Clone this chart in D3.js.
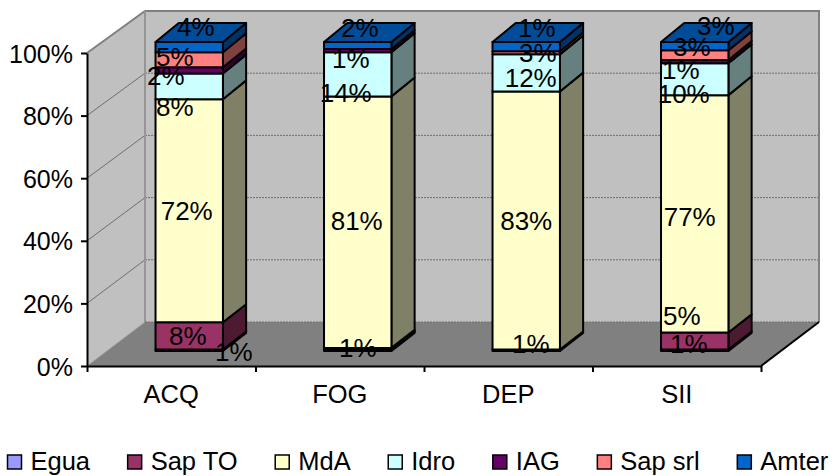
<!DOCTYPE html>
<html>
<head>
<meta charset="utf-8">
<script src="https://cdn.jsdelivr.net/npm/d3@7"></script>
<style>
html, body { margin: 0; padding: 0; background: #fff; }
svg { display: block; }
text { font-family: "Liberation Sans", Arial, sans-serif; fill: #000; }
</style>
</head>
<body>
<div id="chart"></div>
<script>
// Data
const categories = ["ACQ", "FOG", "DEP", "SII"];
const seriesNames = ["Egua", "Sap TO", "MdA", "Idro", "IAG", "Sap srl", "Amter"];
const egua = [0.5, 0.5, 0.5, 0.5];
const sapTO = [8.8, 0.5, 0, 5.5];
const mda = [72.2, 81.4, 83.5, 76.8];
const idro = [8.3, 14.3, 12, 10.3];
const iag = [2, 1, 0, 1.1];
const sapSrl = [4.9, 0, 1, 3.1];
const amter = [3.3, 2.3, 3, 2.7];
const yTicks = [0, 20, 40, 60, 80, 100];

// Printed labels, bottom to top ("" = none)
const labelsACQ = ["1%", "8%", "72%", "8%", "2%", "5%", "4%"];
const labelsFOG = ["", "1%", "81%", "14%", "1%", "", "2%"];
const labelsDEP = ["1%", "", "83%", "12%", "", "3%", "1%"];
const labelsSII = ["1%", "5%", "77%", "10%", "1%", "3%", "3%"];

const seriesValues = [egua, sapTO, mda, idro, iag, sapSrl, amter];
const barLabels = [labelsACQ, labelsFOG, labelsDEP, labelsSII];

// Layout
const width = 833, height = 476;
const plot = { left: 87, right: 761, bottom: 366, top: 53 };
const wall = { dx: 58, bottom: 322, top: 11 };
const barDepth = { front: 0.31, back: 0.71 };
const tickFont = 25, catFont = 25.5, labelFont = 26, legendFont = 25.5;

const colors = ["#9999FF", "#993366", "#FFFFCC", "#CCFFFF", "#660066", "#FF8080", "#0066CC"];
const sideColors = ["#4D4D80", "#4D1A33", "#808066", "#668080", "#330033", "#804040", "#003366"];
const topColors = ["#7373BF", "#73264D", "#BFBF99", "#99BFBF", "#4D004D", "#BF6060", "#004C99"];

// Excel moves its 3D labels around, offsets from the centre of each segment
const labelShift = [
    [[44.5, 1], [-1.5, 0], [-2.5, 0], [-14.5, 20], [-23.5, 5], [-14.5, -3.5], [6.5, -20]],
    [[0, 0], [0, -1], [-1, -2], [-12, 18], [-7, 8], [0, 0], [2, -18]],
    [[4.5, -6.7], [0, 0], [0, 0], [4.5, 4.4], [0, 0], [11.5, 0], [10.5, -19]],
    [[-6, -6.7], [-13, -25.5], [-5, 2.6], [-11, 14], [-14, 7.7], [-3, -8.8], [21, -21]]
];

const svg = d3.select("#chart").append("svg")
    .attr("width", width)
    .attr("height", height);

const xScale = d3.scaleBand()
    .domain(categories)
    .range([plot.left, plot.right])
    .paddingInner(0.6)
    .paddingOuter(0.3);

const yFront = d3.scaleLinear().domain([0, 100]).range([plot.bottom, plot.top]);
const yBack = d3.scaleLinear().domain([0, 100]).range([wall.bottom, wall.top]);
// the bars sit inside the box, the picture has a slight perspective so they get their own scales
const yBarFront = d3.scaleLinear().domain([0, 100]).range([351, 42]);
const yBarBack = d3.scaleLinear().domain([0, 100]).range([333, 23]);

// depth 0 = front of the box, depth 1 = back wall
const px = (x, depth) => x + wall.dx * depth;
const py = (v, depth) => yFront(v) + (yBack(v) - yFront(v)) * depth;
const poly = pts => pts.map(p => p.join(",")).join(" ");

const rows = categories.map((c, i) => {
    const row = { category: c };
    seriesNames.forEach((s, j) => { row[s] = seriesValues[j][i]; });
    return row;
});
const stacked = d3.stack().keys(seriesNames)(rows);

// Walls and floor
const box = svg.append("g");
box.append("polygon")
    .attr("points", poly([[plot.left, py(100, 0)], [px(plot.left, 1), py(100, 1)], [px(plot.left, 1), py(0, 1)], [plot.left, py(0, 0)]]))
    .attr("fill", "#C0C0C0");
box.append("polygon")
    .attr("points", poly([[px(plot.left, 1), py(100, 1)], [px(plot.right, 1), py(100, 1)], [px(plot.right, 1), py(0, 1)], [px(plot.left, 1), py(0, 1)]]))
    .attr("fill", "#C0C0C0");
box.append("polygon")
    .attr("points", poly([[plot.left, py(0, 0)], [px(plot.left, 1), py(0, 1)], [px(plot.right, 1), py(0, 1)], [plot.right, py(0, 0)]]))
    .attr("fill", "#808080");

// Gridlines on both walls
const gridTicks = yTicks.filter(t => t > 0 && t < 100);
box.selectAll(".grid-back")
    .data(gridTicks)
    .enter()
    .append("line")
    .attr("x1", px(plot.left, 1))
    .attr("x2", px(plot.right, 1))
    .attr("y1", d => py(d, 1))
    .attr("y2", d => py(d, 1))
    .attr("stroke", "#6E6E6E")
    .attr("stroke-dasharray", "2,1");
box.selectAll(".grid-side")
    .data(gridTicks)
    .enter()
    .append("line")
    .attr("x1", plot.left)
    .attr("x2", px(plot.left, 1))
    .attr("y1", d => py(d, 0))
    .attr("y2", d => py(d, 1))
    .attr("stroke", "#6E6E6E");

// Grey frame of the walls
box.append("polyline")
    .attr("points", poly([[plot.left, py(100, 0)], [px(plot.left, 1), py(100, 1)], [px(plot.right, 1), py(100, 1)], [px(plot.right, 1), py(0, 1)]]))
    .attr("fill", "none")
    .attr("stroke", "#808080")
    .attr("stroke-width", 2);
box.append("line")
    .attr("x1", px(plot.left, 1)).attr("x2", px(plot.left, 1))
    .attr("y1", py(100, 1)).attr("y2", py(0, 1))
    .attr("stroke", "#969696")
    .attr("stroke-width", 2);
box.append("line")
    .attr("x1", plot.left).attr("x2", px(plot.left, 1))
    .attr("y1", py(0, 0)).attr("y2", py(0, 1))
    .attr("stroke", "#A0A0A0");
box.append("line")
    .attr("x1", px(plot.left, 1)).attr("x2", px(plot.right, 1))
    .attr("y1", py(0, 1)).attr("y2", py(0, 1))
    .attr("stroke", "#6E6E6E")
    .attr("stroke-dasharray", "2,1");
box.append("line")
    .attr("x1", plot.right).attr("x2", px(plot.right, 1))
    .attr("y1", py(0, 0)).attr("y2", py(0, 1))
    .attr("stroke", "#000")
    .attr("stroke-width", 2);

// Axes
const axisY = svg.append("g")
    .attr("transform", "translate(" + plot.left + ",0)")
    .call(d3.axisLeft(yFront).tickValues(yTicks).tickFormat(d => d + "%").tickSize(6).tickSizeOuter(0));
const axisX = svg.append("g")
    .attr("transform", "translate(0," + plot.bottom + ")")
    .call(d3.axisBottom(d3.scalePoint().domain(d3.range(5)).range([plot.left, plot.right])).tickFormat("").tickSize(6).tickSizeOuter(0));
[axisY, axisX].forEach(a => {
    a.selectAll("path, line").attr("stroke", "#000").attr("stroke-width", 2);
});
axisY.selectAll("text")
    .attr("font-size", tickFont)
    .style("font-family", "'Liberation Sans', Arial, sans-serif")
    .attr("x", -14)
    .attr("y", 1);

svg.selectAll(".cat")
    .data(categories)
    .enter()
    .append("text")
    .attr("x", d => xScale(d) + xScale.bandwidth() / 2)
    .attr("y", 403)
    .attr("text-anchor", "middle")
    .attr("font-size", catFont)
    .text(d => d);

// Bars
const bars = svg.append("g");
categories.forEach((c, i) => {
    const x0 = xScale(c), x1 = x0 + xScale.bandwidth();
    const f = barDepth.front, b = barDepth.back;
    stacked.forEach((layer, s) => {
        const lo = layer[i][0], hi = layer[i][1];
        if (hi - lo <= 0) return;
        const g = bars.append("g")
            .attr("stroke", "#000")
            .attr("stroke-width", 2)
            .attr("stroke-linejoin", "round");
        g.append("polygon")
            .attr("points", poly([[px(x1, f), yBarFront(lo)], [px(x1, b), yBarBack(lo)], [px(x1, b), yBarBack(hi)], [px(x1, f), yBarFront(hi)]]))
            .attr("fill", sideColors[s]);
        g.append("polygon")
            .attr("points", poly([[px(x0, f), yBarFront(lo)], [px(x1, f), yBarFront(lo)], [px(x1, f), yBarFront(hi)], [px(x0, f), yBarFront(hi)]]))
            .attr("fill", colors[s]);
        if (hi >= 99.9) {
            g.append("polygon")
                .attr("points", poly([[px(x0, f), yBarFront(hi)], [px(x1, f), yBarFront(hi)], [px(x1, b), yBarBack(hi)], [px(x0, b), yBarBack(hi)]]))
                .attr("fill", topColors[s]);
        }
    });
});

// Data labels
const labels = svg.append("g");
categories.forEach((c, i) => {
    const cx = xScale(c) + xScale.bandwidth() / 2;
    stacked.forEach((layer, s) => {
        const txt = barLabels[i][s];
        if (!txt) return;
        const mid = (layer[i][0] + layer[i][1]) / 2;
        labels.append("text")
            .attr("x", px(cx, barDepth.front) + labelShift[i][s][0])
            .attr("y", yBarFront(mid) + labelShift[i][s][1])
            .attr("dy", "0.36em")
            .attr("text-anchor", "middle")
            .attr("font-size", labelFont)
            .text(txt);
    });
});

// Legend, items flow one after the other
const legend = svg.append("g");
let legendX = 7.5;
seriesNames.forEach((name, i) => {
    legend.append("rect")
        .attr("x", legendX)
        .attr("y", 455)
        .attr("width", 14)
        .attr("height", 14)
        .attr("fill", colors[i])
        .attr("stroke", "#000")
        .attr("stroke-width", 1.5);
    const t = legend.append("text")
        .attr("x", legendX + 23)
        .attr("y", 470)
        .attr("font-size", legendFont)
        .text(name);
    legendX += 23 + t.node().getComputedTextLength() + 37.6;
});
</script>
</body>
</html>
